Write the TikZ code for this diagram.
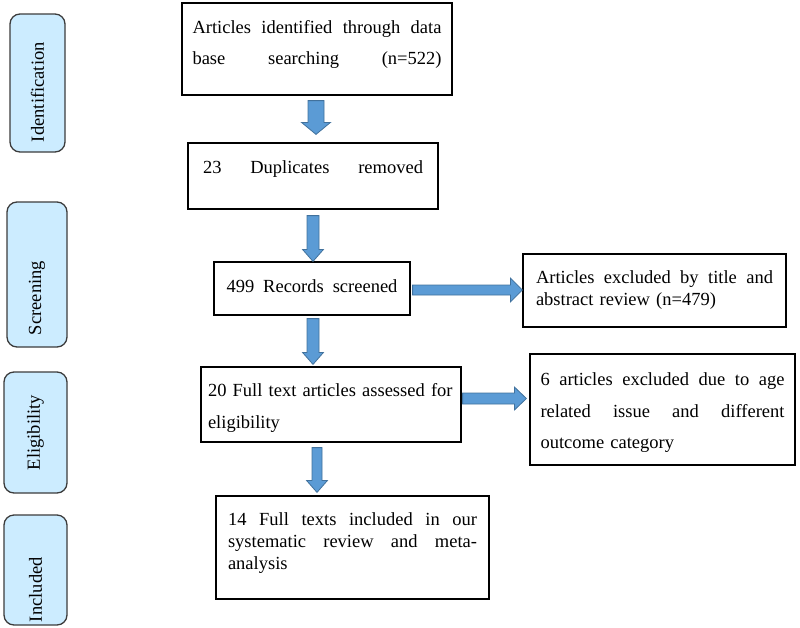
\documentclass[tikz,border=0pt]{standalone}
\usepackage{fontspec}
\setmainfont{Liberation Serif}
\usetikzlibrary{calc}

\definecolor{stagefill}{RGB}{204,236,255}
\definecolor{stageline}{RGB}{60,60,60}
\definecolor{arrowfill}{RGB}{91,155,213}
\definecolor{arrowline}{RGB}{65,113,156}

% one line stretched to the full text width
\newcommand{\fullline}[1]{\makebox[\hsize][s]{\spaceskip=.25em plus 1fil\relax #1}}
% extra depth below the last line (moves the text up)
\newcommand{\lift}[1]{\rule[-#1pt]{0pt}{0pt}}

% block arrow downwards: from, to, x, shaft half, head half, gap top, gap bottom
\newcommand{\flowdown}[7]{%
  \path[blockarrow] let \p1=(#1.south), \p2=(#2.north) in
    ({#3pt-#4pt},{\y1-#6pt}) -- ({#3pt+#4pt},{\y1-#6pt})
    -- ({#3pt+#4pt},{\y2+#7pt+12pt}) -- ({#3pt+#5pt},{\y2+#7pt+12pt})
    -- ({#3pt},{\y2+#7pt}) -- ({#3pt-#5pt},{\y2+#7pt+12pt})
    -- ({#3pt-#4pt},{\y2+#7pt+12pt}) -- cycle;}
% block arrow to the right: from, to, y, shaft half, head half, gap left, gap right
\newcommand{\flowright}[7]{%
  \path[blockarrow] let \p1=(#1.east), \p2=(#2.west) in
    ({\x1+#6pt},{-#3pt+#4pt}) -- ({\x2-#7pt-12pt},{-#3pt+#4pt})
    -- ({\x2-#7pt-12pt},{-#3pt+#5pt}) -- ({\x2-#7pt},{-#3pt})
    -- ({\x2-#7pt-12pt},{-#3pt-#5pt}) -- ({\x2-#7pt-12pt},{-#3pt-#4pt})
    -- ({\x1+#6pt},{-#3pt-#4pt}) -- cycle;}

\tikzset{
  flowbox/.style={draw=black, line width=1.2pt, inner sep=0pt, align=left,
    font={\fontsize{18.5}{22}\selectfont}},
  widelines/.style={font={\fontsize{18.5}{31.5}\selectfont}},
  stage/.style={draw=stageline, fill=stagefill, line width=1.3pt, rounded corners=10pt,
    rotate=90, inner ysep=0pt, align=left, font={\fontsize{18.5}{22}\selectfont}},
  blockarrow/.style={fill=arrowfill, draw=arrowline, line width=0.8pt}
}

\begin{document}
\begin{tikzpicture}[x=1pt, y=-1pt]
\useasboundingbox (0,0) rectangle (800,627);

% stages
\node[stage, minimum width=138pt, minimum height=55pt, text width=118pt, inner xsep=10pt] (ident) at (37.5,83) {Identification};
\node[stage, minimum width=145pt, minimum height=60pt, text width=121pt, inner xsep=12pt] (screen) at (37,274.5) {Screening};
\node[stage, minimum width=121pt, minimum height=63pt, text width=101pt, inner xsep=10pt, align=center] (elig) at (35.5,432.5) {Eligibility};
\node[stage, minimum width=110pt, minimum height=63pt, text width=104pt, inner xsep=3pt] (incl) at (35.5,570) {Included};

% main column
\node[flowbox, widelines, minimum width=270pt, minimum height=92pt, text width=249pt] (found) at (317,49)
  {\fullline{Articles identified through data}\\\fullline{base searching (n=522)}\lift{13}};
\node[flowbox, minimum width=250pt, minimum height=66pt, text width=220pt] (dedup) at (313,176)
  {\fullline{23 Duplicates removed}\lift{18}};
\node[flowbox, minimum width=196pt, minimum height=53pt, text width=171pt] (screened) at (312,288.5)
  {\fullline{499 Records screened}\lift{5}};
\node[flowbox, widelines, minimum width=260pt, minimum height=75pt, text width=246pt] (assessed) at (331,404.5)
  {\rule{0pt}{20pt}20 Full text articles assessed for\\eligibility};
\node[flowbox, minimum width=273pt, minimum height=103pt, text width=249pt] (included) at (352.5,547.5)
  {\fullline{14 Full texts included in our}\\\fullline{systematic review and meta-}\\analysis\lift{12}};

% exclusions
\node[flowbox, minimum width=263pt, minimum height=73pt, text width=237pt] (excluded) at (654.5,290.5)
  {\fullline{Articles excluded by title and}\\abstract review (n=479)\lift{3}};
\node[flowbox, widelines, minimum width=265pt, minimum height=111pt, text width=244pt] (rejected) at (662.5,409.5)
  {\rule{0pt}{19pt}\fullline{6 articles excluded due to age}\\\fullline{related issue and different}\\outcome category};

% arrows
\flowdown{found}{dedup}{316}{8}{14.5}{5}{8}
\flowdown{dedup}{screened}{313}{6}{10.5}{6}{0}
\flowdown{screened}{assessed}{313}{6}{10.5}{3}{2}
\flowdown{assessed}{included}{317}{5}{10.5}{5}{3}
\flowright{screened}{excluded}{290}{5}{12}{2}{0}
\flowright{assessed}{rejected}{398.5}{5.5}{11.5}{1}{3}
\end{tikzpicture}
\end{document}
